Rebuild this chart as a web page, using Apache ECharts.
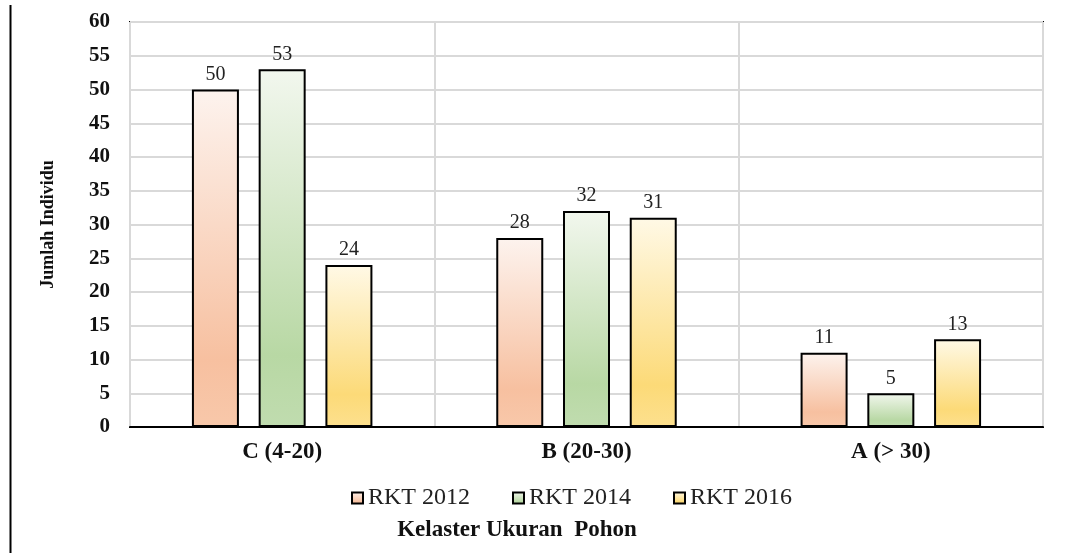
<!DOCTYPE html>
<html>
<head>
<meta charset="utf-8">
<script src="https://cdn.jsdelivr.net/npm/echarts@6/dist/echarts.min.js"></script>
<style>
  html, body { margin: 0; padding: 0; background: #fff; }
  #chart { width: 1077px; height: 553px; }
</style>
</head>
<body>
<div id="chart"></div>
<script>
// Size classes of trees and counts per survey year
const categories = ['C (4-20)', 'B (20-30)', 'A (> 30)'];
const seriesNames = ['RKT 2012', 'RKT 2014', 'RKT 2016'];
const rkt2012 = [50, 28, 11];
const rkt2014 = [53, 32, 5];
const rkt2016 = [24, 31, 13];
const yTicks = [0, 5, 10, 15, 20, 25, 30, 35, 40, 45, 50, 55, 60];
const xTitle = 'Kelaster Ukuran  Pohon';
const yTitle = 'Jumlah Individu';

const SERIF = "'Liberation Serif', 'DejaVu Serif', serif";

function grad(top, mid, bottom) {
  return new echarts.graphic.LinearGradient(0, 0, 0, 1, [
    { offset: 0, color: top },
    { offset: 0.8, color: mid },
    { offset: 1, color: bottom }
  ]);
}

const fills = [
  grad('#fdf3ee', '#f7c0a0', '#f8c8aa'),
  grad('#f2f7ee', '#b8d8a4', '#c0dcaf'),
  grad('#fff9e6', '#fcda78', '#fde08e')
];

const valueSets = [rkt2012, rkt2014, rkt2016];

const chart = echarts.init(document.getElementById('chart'), null, { renderer: 'canvas' });

chart.setOption({
  animation: false,
  backgroundColor: '#ffffff',
  grid: {
    left: 130, right: 34, top: 22, bottom: 126,
    show: true, borderColor: '#000', borderWidth: 2, backgroundColor: 'transparent'
  },
  legend: {
    data: seriesNames,
    left: 346, top: 481,
    itemWidth: 11, itemHeight: 11, itemGap: 42,
    icon: 'rect',
    textStyle: { fontFamily: SERIF, fontSize: 24, color: '#222' }
  },
  xAxis: {
    type: 'category',
    data: categories,
    axisLine: { show: true, lineStyle: { color: '#000', width: 2 } },
    axisTick: { show: false },
    axisLabel: { fontFamily: SERIF, fontSize: 23, fontWeight: 'bold', color: '#111', margin: 14 },
    splitLine: { show: true, lineStyle: { color: '#d9d9d9', width: 2 } }
  },
  yAxis: {
    type: 'value',
    min: yTicks[0], max: yTicks[yTicks.length - 1], interval: 5,
    name: yTitle,
    nameLocation: 'middle',
    nameGap: 73,
    nameTextStyle: { fontFamily: SERIF, fontSize: 18, fontWeight: 'bold', color: '#111' },
    axisLine: { show: false },
    axisTick: { show: false },
    axisLabel: { fontFamily: SERIF, fontSize: 21, fontWeight: 'bold', color: '#111', margin: 20 },
    splitLine: { show: true, lineStyle: { color: '#d9d9d9', width: 2 } }
  },
  series: seriesNames.map((name, i) => ({
    name: name,
    type: 'bar',
    data: valueSets[i],
    barWidth: 47,
    barGap: '42%',
    itemStyle: { color: fills[i], borderColor: '#000', borderWidth: 2 },
    label: {
      show: true, position: 'top', distance: 5,
      fontFamily: SERIF, fontSize: 20, color: '#222'
    }
  })),
  graphic: [
    {
      // page margin rule on the left
      type: 'line',
      shape: { x1: 10.5, y1: 5, x2: 10.5, y2: 553 },
      style: { stroke: '#000', lineWidth: 2 }
    },
    {
      // x-axis title, centred under the legend block
      type: 'text',
      style: {
        x: 517, y: 530,
        text: xTitle,
        textAlign: 'center',
        textVerticalAlign: 'middle',
        font: "bold 23px 'Liberation Serif', serif",
        fill: '#111'
      }
    }
  ]
});
</script>
</body>
</html>
